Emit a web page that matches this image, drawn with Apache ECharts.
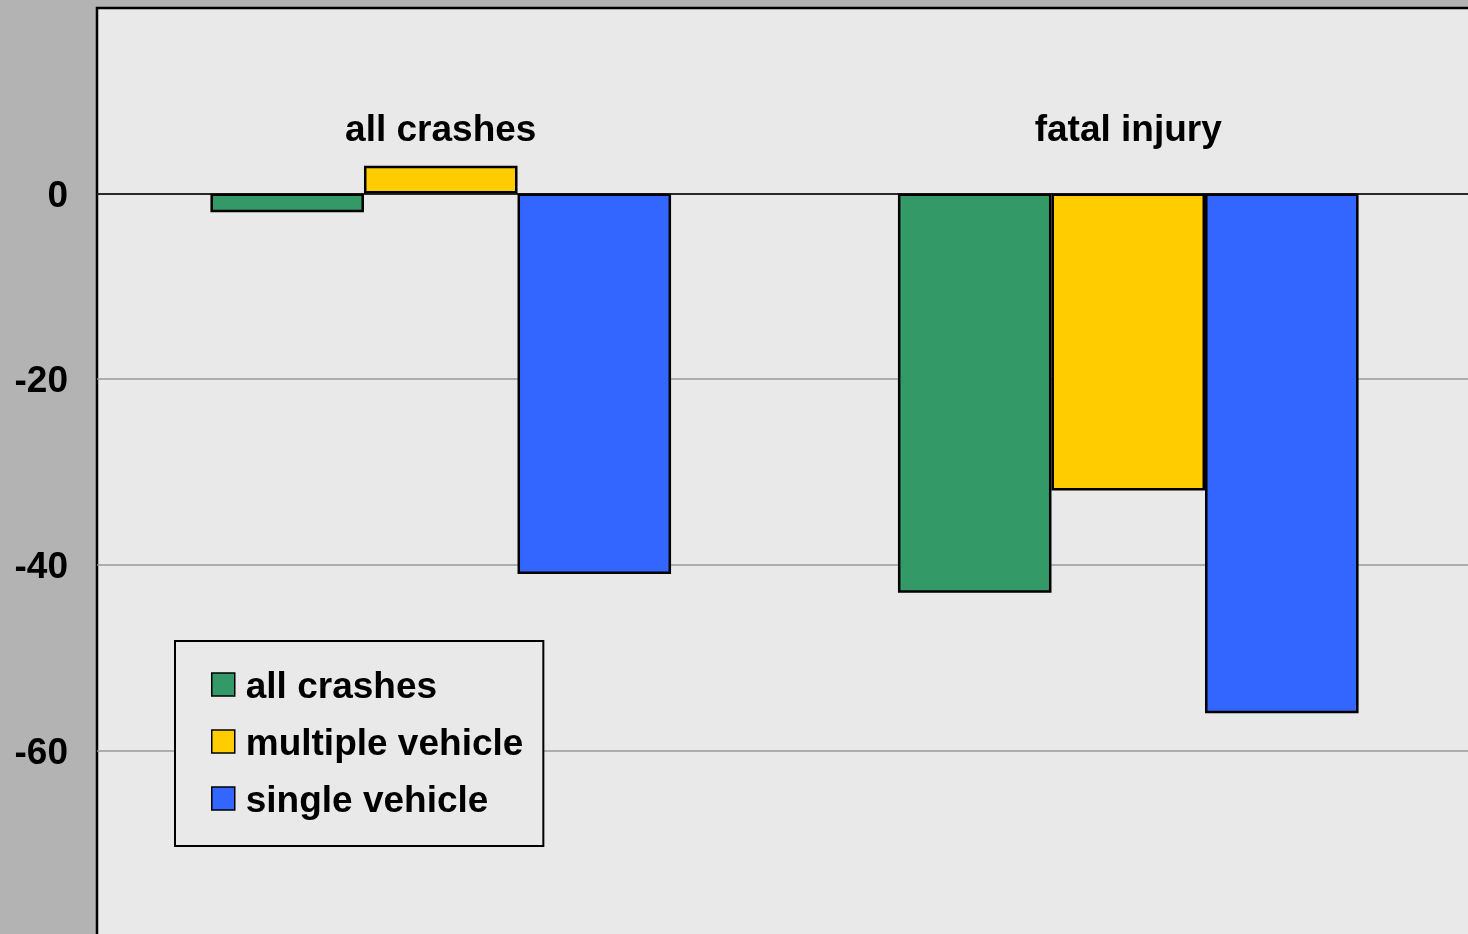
<!DOCTYPE html>
<html>
<head>
<meta charset="utf-8">
<title>crash change</title>
<script src="https://cdn.jsdelivr.net/npm/echarts@6/dist/echarts.min.js"></script>
<style>
  html, body { margin: 0; padding: 0; background: #b3b3b3; }
  #chart { width: 1468px; height: 934px; }
</style>
</head>
<body>
<div id="chart"></div>
<script>
// data
const categories = ['all crashes', 'fatal injury']
const seriesNames = ['all crashes', 'multiple vehicle', 'single vehicle']
const allCrashes = [-2, -43]
const multipleVehicle = [3, -32]
const singleVehicle = [-41, -56]
const shownTicks = [0, -20, -40, -60]

const colors = ['#339966', '#ffcc00', '#3366ff']
const font = '"Liberation Sans", Arial, Helvetica, sans-serif'

const myChart = echarts.init(document.getElementById('chart'))

// bold black label text, pushed down a few px with rich padding
const boldText = {
  fontFamily: font,
  fontWeight: 'bold',
  fontSize: 37,
  color: '#000'
}

const makeBar = (name, data, i) => {
  return {
    name: name,
    type: 'bar',
    data: data,
    barGap: '0%',
    barCategoryGap: '33%',
    itemStyle: {
      color: colors[i],
      borderColor: '#000',
      borderWidth: 2.5
    }
  }
}

const option = {
  backgroundColor: '#b3b3b3',
  animation: false,
  grid: {
    left: 97,
    right: -4,
    top: 8,
    bottom: -2,
    outerBoundsMode: 'none',
    containLabel: false,
    show: true,
    backgroundColor: '#e9e9e9',
    borderColor: '#000',
    borderWidth: 2.5
  },
  legend: {
    orient: 'vertical',
    left: 175,
    top: 641,
    padding: [28, 20, 26, 36],
    itemWidth: 23,
    itemHeight: 23,
    itemGap: 20,
    backgroundColor: '#e9e9e9',
    borderColor: '#000',
    borderWidth: 2,
    borderRadius: 0,
    icon: 'rect',
    itemStyle: { borderColor: '#000', borderWidth: 1.5 },
    formatter: (name) => '{t|' + name + '}',
    textStyle: {
      ...boldText,
      rich: { t: { ...boldText, padding: [6, 0, 0, 6] } }
    },
    data: seriesNames
  },
  xAxis: {
    type: 'category',
    position: 'top',
    data: categories,
    axisLine: { onZero: true, lineStyle: { color: '#000', width: 1.5 } },
    axisTick: { show: false },
    axisLabel: {
      margin: -141,
      ...boldText
    }
  },
  yAxis: {
    type: 'value',
    min: -80,
    max: 20,
    interval: 20,
    axisLine: { show: false },
    axisTick: { show: false },
    splitLine: {
      showMinLine: false,
      showMaxLine: false,
      lineStyle: { color: '#999', width: 1.5 }
    },
    axisLabel: {
      margin: 29,
      ...boldText,
      rich: { t: { ...boldText, padding: [6, 0, 0, 0] } },
      formatter: (v) => (shownTicks.indexOf(v) >= 0 ? '{t|' + v + '}' : '')
    }
  },
  series: [
    makeBar(seriesNames[0], allCrashes, 0),
    makeBar(seriesNames[1], multipleVehicle, 1),
    makeBar(seriesNames[2], singleVehicle, 2)
  ]
}

myChart.setOption(option)
</script>
</body>
</html>
